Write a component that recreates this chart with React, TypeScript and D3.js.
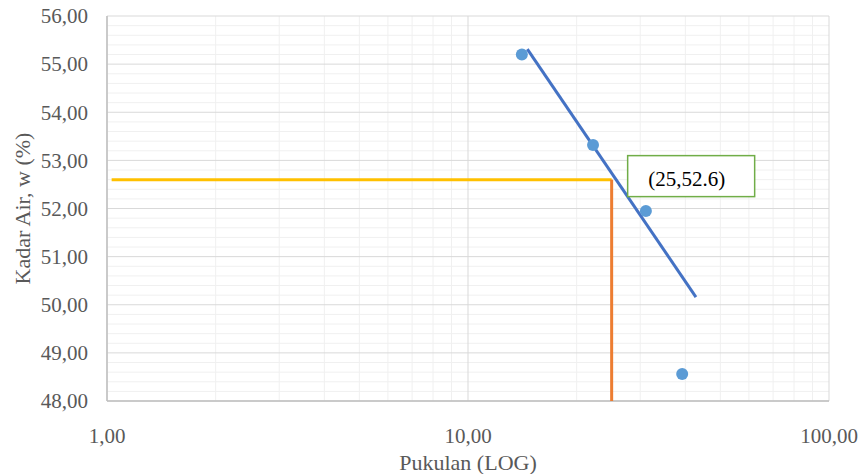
import React from "react";
import * as d3 from "d3";

// Liquid limit test: blow count vs. water content
const blows = [14.1, 22.2, 31.1, 39.2];
const waterContent = [55.2, 53.32, 51.95, 48.56];

// Logarithmic trendline endpoints
const trendX = [14.6, 42.8];
const trendY = [55.31, 50.16];

// Reading at 25 blows
const readX = 25;
const readY = 52.6;
const readLineStartX = 1.03;
const readLabel = "(25,52.6)";

const xTicks = [1, 10, 100];
const yTicks = [48, 49, 50, 51, 52, 53, 54, 55, 56];

const fmt = (v: number) => v.toFixed(2).replace(".", ",");

export default function App() {
  const W = 863;
  const H = 474;
  const m = { left: 107, right: 829, top: 16, bottom: 401 };

  const x = d3.scaleLog().domain([1, 100]).range([m.left, m.right]);
  const y = d3.scaleLinear().domain([48, 56]).range([m.bottom, m.top]);

  const minorX: number[] = [];
  [1, 10].forEach((d) => {
    for (let k = 2; k <= 9; k++) minorX.push(d * k);
  });
  const minorY: number[] = [];
  for (let v = 48; v < 56; v++) {
    for (let k = 1; k <= 4; k++) minorY.push(v + k * 0.2);
  }

  const line = d3
    .line<[number, number]>()
    .x((d) => x(d[0]))
    .y((d) => y(d[1]));

  const trend: [number, number][] = trendX.map((v, i) => [v, trendY[i]]);

  const font = '"Liberation Serif", "Times New Roman", "DejaVu Serif", serif';
  const boxX = x(readX) + 16;
  const boxY = y(readY) - 24;

  return (
    <svg
      width={W}
      height={H}
      style={{ position: "absolute", left: 0, top: 0, background: "#fff", fontFamily: font }}
    >
      {/* minor grid */}
      {minorY.map((v) => (
        <line key={"my" + v} x1={m.left} x2={m.right} y1={y(v)} y2={y(v)} stroke="#f0f0f0" strokeWidth={1} />
      ))}
      {minorX.map((v) => (
        <line key={"mx" + v} x1={x(v)} x2={x(v)} y1={m.top} y2={m.bottom} stroke="#f0f0f0" strokeWidth={1} />
      ))}
      {/* major grid */}
      {yTicks.map((v) => (
        <line key={"gy" + v} x1={m.left} x2={m.right} y1={y(v)} y2={y(v)} stroke="#d9d9d9" strokeWidth={1} />
      ))}
      {xTicks.map((v) => (
        <line key={"gx" + v} x1={x(v)} x2={x(v)} y1={m.top} y2={m.bottom} stroke="#d9d9d9" strokeWidth={1} />
      ))}
      {/* axes */}
      <line x1={m.left} x2={m.left} y1={m.top} y2={m.bottom} stroke="#bfbfbf" strokeWidth={1.5} />
      <line x1={m.left} x2={m.right} y1={m.bottom} y2={m.bottom} stroke="#bfbfbf" strokeWidth={1.5} />

      {/* tick labels */}
      {yTicks.map((v) => (
        <text key={"ty" + v} x={88} y={y(v)} dy="0.35em" textAnchor="end" fontSize={21} fill="#595959">
          {fmt(v)}
        </text>
      ))}
      {xTicks.map((v) => (
        <text key={"tx" + v} x={x(v)} y={436} dy="0.35em" textAnchor="middle" fontSize={21} fill="#595959">
          {fmt(v)}
        </text>
      ))}

      {/* axis titles */}
      <text x={(m.left + m.right) / 2} y={462} dy="0.35em" textAnchor="middle" fontSize={22} fill="#595959">
        Pukulan (LOG)
      </text>
      <text
        transform={`translate(22,${(m.top + m.bottom) / 2}) rotate(-90)`}
        dy="0.35em"
        textAnchor="middle"
        fontSize={22}
        fill="#595959"
      >
        Kadar Air, w (%)
      </text>

      {/* reading lines */}
      <line x1={x(readLineStartX)} x2={x(readX)} y1={y(readY)} y2={y(readY)} stroke="#ffc000" strokeWidth={3} />
      <line x1={x(readX)} x2={x(readX)} y1={y(readY)} y2={m.bottom} stroke="#ed7d31" strokeWidth={3} />

      {/* trendline */}
      <path d={line(trend) || ""} fill="none" stroke="#4472c4" strokeWidth={3} />

      {/* data points */}
      {blows.map((b, i) => (
        <circle key={"p" + i} cx={x(b)} cy={y(waterContent[i])} r={6} fill="#5b9bd5" />
      ))}

      {/* annotation */}
      <rect x={boxX} y={boxY} width={127} height={41} fill="#fff" stroke="#70ad47" strokeWidth={1.5} />
      <text x={boxX + 59} y={boxY + 23} dy="0.35em" textAnchor="middle" fontSize={21} fill="#000">
        {readLabel}
      </text>
    </svg>
  );
}
